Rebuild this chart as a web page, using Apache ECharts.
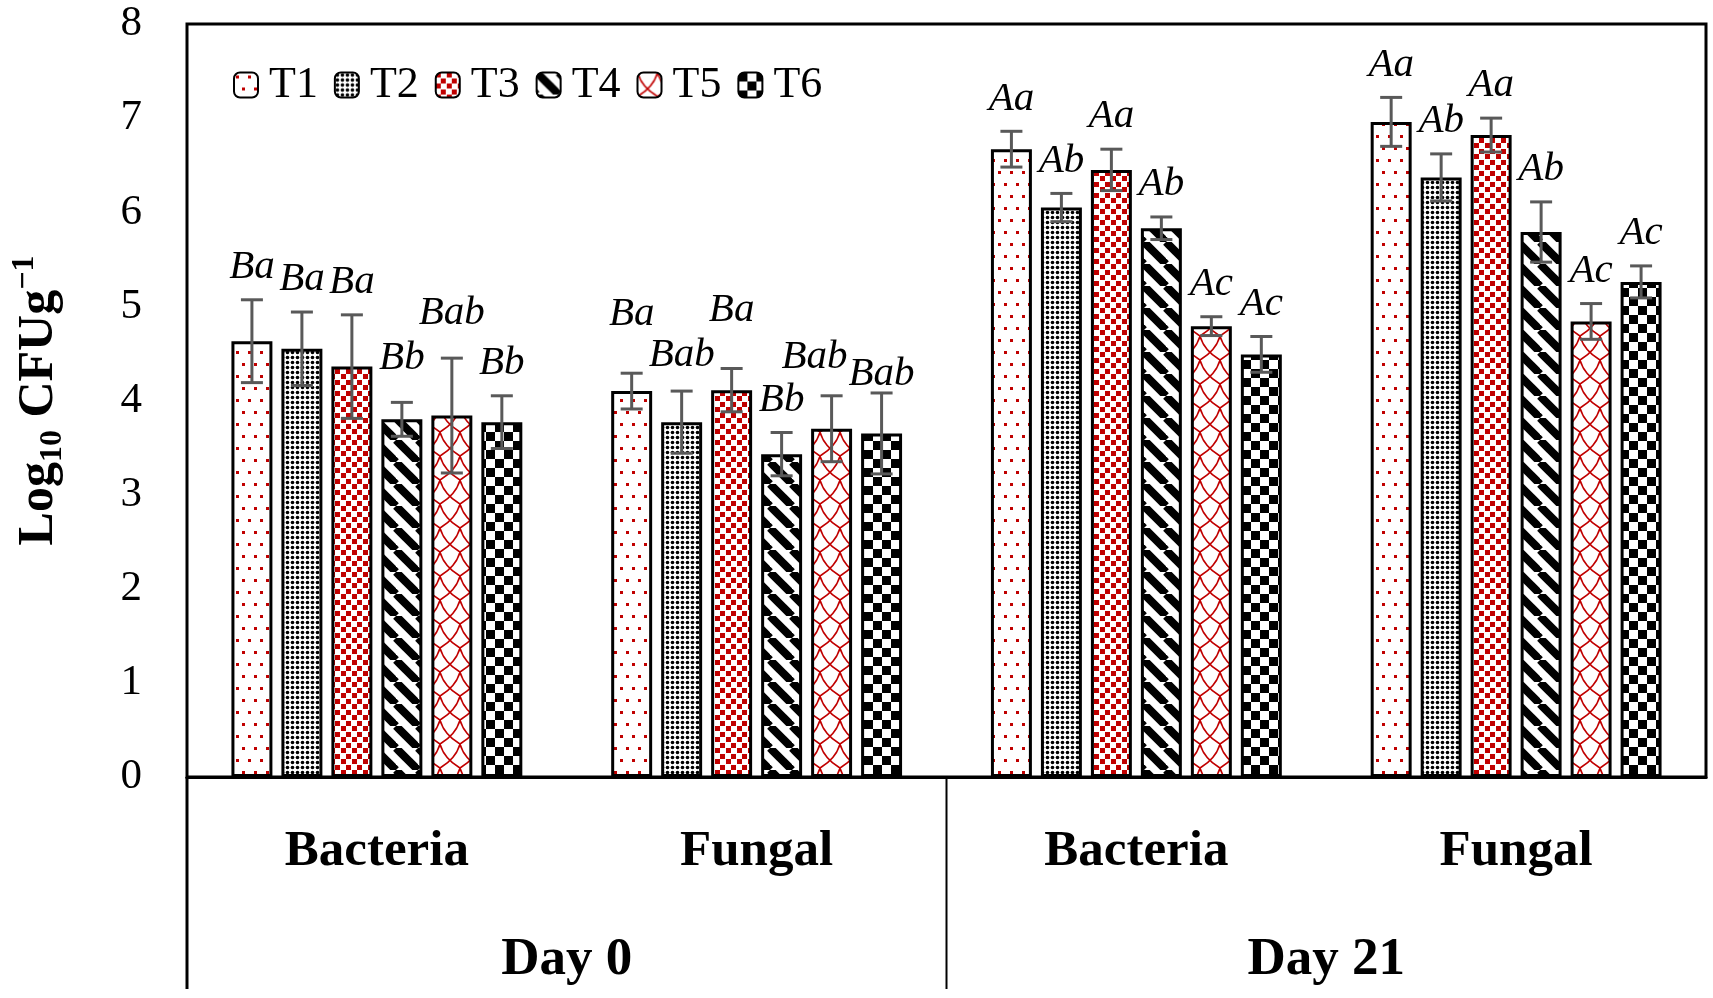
<!DOCTYPE html>
<html>
<head>
<meta charset="utf-8">
<script src="https://cdn.jsdelivr.net/npm/echarts@6/dist/echarts.min.js"></script>
<style>
html, body { margin: 0; padding: 0; background: #fff; }
#main { width: 1713px; height: 998px; }
</style>
</head>
<body>
<div id="main"></div>
<script>
// categories: Day 0 Bacteria, Day 0 Fungal, Day 21 Bacteria, Day 21 Fungal
var groupNames = ['Bacteria', 'Fungal', 'Bacteria', 'Fungal'];
var dayNames = ['Day 0', 'Day 21'];
var seriesNames = ['T1', 'T2', 'T3', 'T4', 'T5', 'T6'];

var meanT1 = [4.63, 4.10, 6.67, 6.96];
var meanT2 = [4.55, 3.77, 6.05, 6.37];
var meanT3 = [4.36, 4.11, 6.45, 6.82];
var meanT4 = [3.80, 3.43, 5.83, 5.79];
var meanT5 = [3.84, 3.70, 4.79, 4.84];
var meanT6 = [3.77, 3.65, 4.49, 5.26];

var errT1 = [0.44, 0.19, 0.19, 0.26];
var errT2 = [0.39, 0.33, 0.15, 0.25];
var errT3 = [0.55, 0.23, 0.22, 0.18];
var errT4 = [0.18, 0.23, 0.12, 0.32];
var errT5 = [0.61, 0.35, 0.10, 0.19];
var errT6 = [0.28, 0.43, 0.19, 0.17];

var letT1 = ['Ba', 'Ba', 'Aa', 'Aa'];
var letT2 = ['Ba', 'Bab', 'Ab', 'Ab'];
var letT3 = ['Ba', 'Ba', 'Aa', 'Aa'];
var letT4 = ['Bb', 'Bb', 'Ab', 'Ab'];
var letT5 = ['Bab', 'Bab', 'Ac', 'Ac'];
var letT6 = ['Bb', 'Bab', 'Ac', 'Ac'];

var means = [meanT1, meanT2, meanT3, meanT4, meanT5, meanT6];
var errs = [errT1, errT2, errT3, errT4, errT5, errT6];
var letters = [letT1, letT2, letT3, letT4, letT5, letT6];

// small hand nudges for the letter labels that would otherwise collide ("series,category": [dx, dy])
var labelNudge = {
	'3,0': [0, -12],
	'4,0': [0, -12],
	'0,1': [0, -26],
	'1,1': [0, -3],
	'2,1': [0, -26],
	'4,1': [-17, -6],
	'5,1': [0, 14]
};

var RED = '#c00000';
var BAR_GAP = '22%';
var CAT_GAP = '23.4%';

// fill patterns
function makeTile(w, h, draw) {
	var c = document.createElement('canvas');
	c.width = w;
	c.height = h;
	var ctx = c.getContext('2d');
	ctx.fillStyle = '#fff';
	ctx.fillRect(0, 0, w, h);
	draw(ctx, w, h);
	return { image: c, repeat: 'repeat' };
}
var patterns = [
	// T1 sparse red dots
	makeTile(12, 24, function (ctx) {
		ctx.fillStyle = RED;
		ctx.fillRect(2, 3, 3, 3);
		ctx.fillRect(8, 15, 3, 3);
	}),
	// T2 fine black dots
	makeTile(5, 5, function (ctx) {
		ctx.fillStyle = '#000';
		ctx.beginPath();
		ctx.arc(2.5, 2.5, 1.8, 0, Math.PI * 2);
		ctx.fill();
	}),
	// T3 red squares
	makeTile(11, 11, function (ctx) {
		ctx.fillStyle = RED;
		ctx.fillRect(0, 0, 5, 5);
		ctx.fillRect(5, 6, 5, 5);
	}),
	// T4 black diagonal stripes
	makeTile(22, 22, function (ctx, w, h) {
		ctx.strokeStyle = '#000';
		ctx.lineWidth = 8;
		for (var k = -1; k <= 1; k++) {
			ctx.beginPath();
			ctx.moveTo(k * w, 0);
			ctx.lineTo(k * w + w, h);
			ctx.stroke();
		}
	}),
	// T5 red trellis
	makeTile(20, 24, function (ctx, w, h) {
		ctx.strokeStyle = RED;
		ctx.lineWidth = 1.6;
		ctx.beginPath();
		ctx.moveTo(0, 0);
		ctx.quadraticCurveTo(w * 0.2, h * 0.6, w, h);
		ctx.moveTo(w, 0);
		ctx.quadraticCurveTo(w * 0.8, h * 0.6, 0, h);
		ctx.stroke();
	}),
	// T6 checkerboard
	makeTile(18, 18, function (ctx) {
		ctx.fillStyle = '#000';
		ctx.fillRect(0, 0, 9, 9);
		ctx.fillRect(9, 9, 9, 9);
	})
];

var chart = echarts.init(document.getElementById('main'));

var barSeries = seriesNames.map(function (name, j) {
	return {
		name: name,
		type: 'bar',
		xAxisIndex: 0,
		data: means[j],
		barGap: BAR_GAP,
		barCategoryGap: CAT_GAP,
		itemStyle: {
			color: patterns[j],
			borderColor: '#000',
			borderWidth: 3
		},
		emphasis: { disabled: true }
	};
});

var errData = [];
for (var j = 0; j < seriesNames.length; j++) {
	for (var i = 0; i < groupNames.length; i++) {
		errData.push([i, j, means[j][i], errs[j][i]]);
	}
}

function renderErr(params, api) {
	var cat = api.value(0);
	var j = api.value(1);
	var mean = api.value(2);
	var err = api.value(3);
	var layout = api.barLayout({ barGap: BAR_GAP, barCategoryGap: CAT_GAP, count: 6 });
	var cx = api.coord([cat, 0])[0] + layout[j].offsetCenter;
	var yHi = api.coord([cat, mean + err])[1];
	var yLo = api.coord([cat, mean - err])[1];
	var cap = 11;
	var st = { stroke: '#595959', lineWidth: 3 };
	var nudge = labelNudge[j + ',' + cat] || [0, 0];
	return {
		type: 'group',
		children: [
			{ type: 'line', shape: { x1: cx, y1: yHi, x2: cx, y2: yLo }, style: st },
			{ type: 'line', shape: { x1: cx - cap, y1: yHi, x2: cx + cap, y2: yHi }, style: st },
			{ type: 'line', shape: { x1: cx - cap, y1: yLo, x2: cx + cap, y2: yLo }, style: st },
			{
				type: 'text',
				style: {
					text: letters[j][cat],
					x: cx + nudge[0],
					y: yHi - 12 + nudge[1],
					align: 'center',
					verticalAlign: 'bottom',
					fontStyle: 'italic',
					fontSize: 41,
					fontFamily: 'Liberation Serif',
					fill: '#000'
				}
			}
		]
	};
}

var option = {
	animation: false,
	backgroundColor: '#fff',
	grid: {
		left: 187,
		right: 7,
		top: 24,
		bottom: 221,
		show: true,
		borderColor: '#000',
		borderWidth: 3,
		backgroundColor: 'transparent'
	},
	legend: {
		data: seriesNames,
		left: 228,
		top: 58,
		itemWidth: 24,
		itemHeight: 25,
		itemGap: 16,
		textStyle: {
			fontFamily: 'Liberation Serif',
			fontSize: 44,
			color: '#000',
			padding: [0, 0, 0, 6]
		}
	},
	xAxis: [
		{
			type: 'category',
			data: groupNames,
			axisLine: { lineStyle: { color: '#000', width: 3 } },
			axisTick: { show: false },
			axisLabel: {
				margin: 49,
				fontFamily: 'Liberation Serif',
				fontWeight: 'bold',
				fontSize: 51,
				color: '#000'
			}
		},
		{
			type: 'category',
			data: dayNames,
			position: 'bottom',
			axisLine: { show: false },
			axisTick: { show: false },
			axisLabel: {
				margin: 157,
				fontFamily: 'Liberation Serif',
				fontWeight: 'bold',
				fontSize: 53,
				color: '#000'
			}
		}
	],
	yAxis: {
		type: 'value',
		min: 0,
		max: 8,
		interval: 1,
		axisLine: { show: false },
		axisTick: { show: false },
		splitLine: { show: false },
		axisLabel: {
			margin: 45,
			fontFamily: 'Liberation Serif',
			fontSize: 43,
			color: '#000'
		},
		name: '{b|Log}{sub|10}{b| CFUg}{sup|\u22121}',
		nameLocation: 'middle',
		nameRotate: 90,
		nameGap: 118,
		nameTextStyle: {
			rich: {
				b: { fontFamily: 'Liberation Serif', fontWeight: 'bold', fontSize: 50, lineHeight: 60, color: '#000' },
				sub: { fontFamily: 'Liberation Serif', fontWeight: 'bold', fontSize: 32, lineHeight: 32, verticalAlign: 'bottom', color: '#000' },
				sup: { fontFamily: 'Liberation Serif', fontWeight: 'bold', fontSize: 32, lineHeight: 32, verticalAlign: 'top', color: '#000' }
			}
		}
	},
	series: barSeries.concat([{
		type: 'custom',
		xAxisIndex: 0,
		renderItem: renderErr,
		data: errData,
		encode: { x: 0, y: 2 },
		z: 10,
		silent: true
	}])
};
chart.setOption(option);

// lines under the axis that split the two days
var c0 = chart.convertToPixel({ xAxisIndex: 1 }, 0);
var c1 = chart.convertToPixel({ xAxisIndex: 1 }, 1);
var half = (c1 - c0) / 2;
var yBase = chart.convertToPixel({ yAxisIndex: 0 }, 0);
chart.setOption({
	graphic: [
		{ type: 'line', shape: { x1: c0 - half, y1: yBase, x2: c0 - half, y2: yBase + 212 }, style: { stroke: '#000', lineWidth: 3 } },
		{ type: 'line', shape: { x1: c0 + half, y1: yBase, x2: c0 + half, y2: yBase + 212 }, style: { stroke: '#000', lineWidth: 2 } }
	]
});
</script>
</body>
</html>
